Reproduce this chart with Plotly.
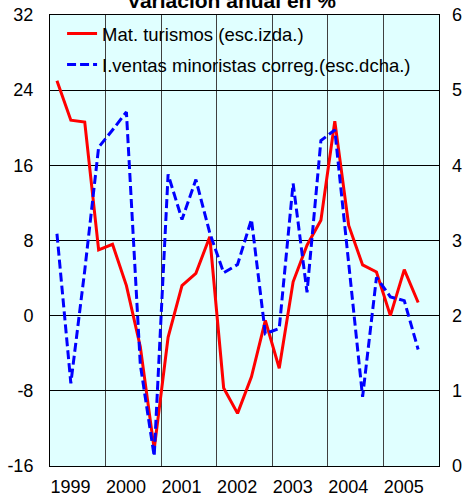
import plotly.graph_objects as go

# trimestres 1999-I .. 2005-III
anios = ["1999", "2000", "2001", "2002", "2003", "2004", "2005"]
mat_turismos = [25.0, 20.8, 20.6, 7.0, 7.6, 3.2, -3.3, -14.2, -2.3, 3.2, 4.5, 8.4, -7.7, -10.4,
                -6.5, -0.5, -5.6, 3.6, 7.5, 10.15, 20.7, 9.6, 5.4, 4.65, 0.0, 4.9, 1.4]
ventas_minoristas = [3.09, 1.10, 2.6, 4.24, 4.47, 4.71, 1.35, 0.13, 3.88, 3.28, 3.81, 3.1, 2.57, 2.68,
                     3.28, 1.76, 1.83, 3.76, 2.31, 4.33, 4.47, 2.67, 0.92, 2.51, 2.25, 2.20, 1.55]
izda_ticks = [-16, -8, 0, 8, 16, 24, 32]
izda_labels = ["-16", "-8", "0", "8", "16", "24", "32"]

trim = list(range(len(mat_turismos)))
font = "Liberation Sans, Arial, sans-serif"

fig = go.Figure()
fig.add_trace(go.Scatter(x=trim, y=mat_turismos, mode="lines", name="Mat. turismos (esc.izda.)",
                         legendgroup="a", line=dict(color="#FF0000", width=3)))
fig.add_trace(go.Scatter(x=trim, y=ventas_minoristas, mode="lines", yaxis="y2", legendgroup="b",
                         name="I.ventas minoristas correg.(esc.dcha.)",
                         line=dict(color="#0000FF", width=3, dash="9px,4px")))

fig.update_layout(
    width=463, height=497,
    margin=dict(l=50, r=24, t=15, b=31, autoexpand=False),
    paper_bgcolor="white", plot_bgcolor="#E0FFFF",
    font=dict(family=font, size=18, color="black"),
    title=dict(text="<b>Variación anual en %</b>", x=0.5, xref="container", xanchor="center",
               y=0.998, yref="container", yanchor="middle", font=dict(size=21)),
    showlegend=True,
    legend=dict(x=0.031, y=1.0, xanchor="left", yanchor="top", bgcolor="rgba(0,0,0,0)",
                font=dict(size=18.5), tracegroupgap=4),
    xaxis=dict(range=[-0.5, 27.5], tickvals=[0.97 + 4 * k for k in range(len(anios))], ticktext=anios,
               showgrid=False, ticks="", showline=True, linecolor="black", linewidth=1, mirror=True,
               ticklabelstandoff=4, zeroline=False, automargin=False,
               minor=dict(tickvals=[-0.5 + 4 * k for k in range(8)], showgrid=True,
                          gridcolor="#404040", gridwidth=1, ticks="")),
    yaxis=dict(range=[-16, 32], tickvals=izda_ticks, ticktext=izda_labels, showgrid=True,
               gridcolor="black", gridwidth=1, zeroline=False, ticks="", showline=True,
               linecolor="black", linewidth=1, mirror=True, ticklabelstandoff=12, automargin=False),
    yaxis2=dict(range=[0, 6], dtick=1, overlaying="y", side="right", showgrid=False, zeroline=False,
                ticks="", ticklabelstandoff=12, automargin=False),
)

# the page's default 8px body margin would push the chart off the window
fig.write_html("out.html", config={"displayModeBar": False},
               post_script="document.body.style.margin = '0'; document.body.style.overflow = 'hidden';")
